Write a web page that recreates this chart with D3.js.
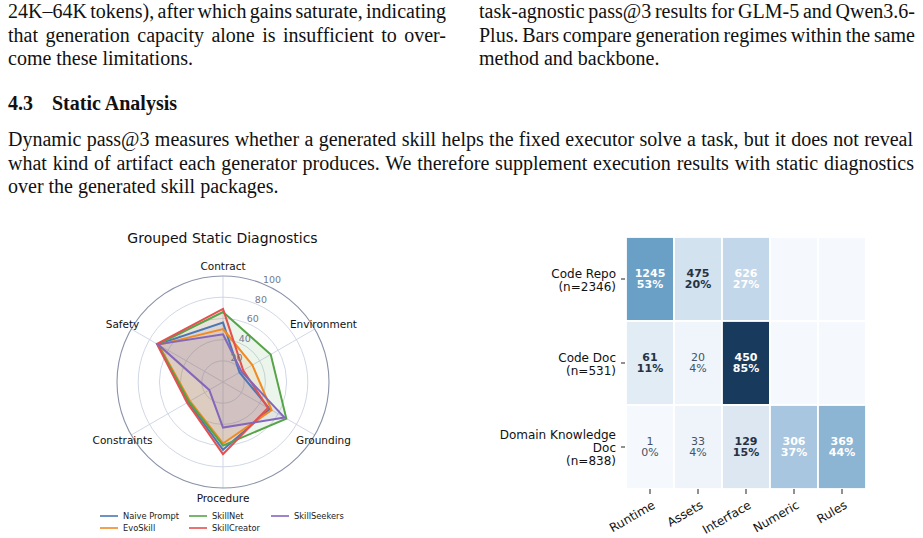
<!DOCTYPE html>
<html>
<head>
<meta charset="utf-8">
<script src="https://cdn.jsdelivr.net/npm/d3@7"></script>
<style>
  body { margin: 0; background: #fff; }
  svg { display: block; }
</style>
</head>
<body>
<div id="page"></div>
<script>
// ---- data ----
var radarAxes = ["Contract", "Environment", "Grounding", "Procedure", "Constraints", "Safety"];
var methods = ["Naive Prompt", "EvoSkill", "SkillNet", "SkillCreator", "SkillSeekers"];
var naivePrompt = [56, 18, 51, 64, 38, 71];
var evoSkill = [50, 32, 53, 58, 36, 70];
var skillNet = [66, 52, 69, 60, 37, 71];
var skillCreator = [69, 22, 49, 68, 39, 72];
var skillSeekers = [45, 20, 67, 43, 15, 71];
var radialTicks = [20, 40, 60, 80, 100];

var sourceLabels = [["Code Repo", "(n=2346)"], ["Code Doc", "(n=531)"], ["Domain Knowledge", "Doc", "(n=838)"]];
var artifactTypes = ["Runtime", "Assets", "Interface", "Numeric", "Rules"];
var codeRepoCounts = [1245, 475, 626, 0, 0];
var codeDocCounts = [61, 20, 450, 0, 0];
var domainDocCounts = [1, 33, 129, 306, 369];

var colors = ["#4a78b4", "#f28a22", "#55a447", "#e4504f", "#8467bb"];

var width = 923, height = 538;

var svg = d3.select("#page")
  .append("svg")
  .attr("width", width)
  .attr("height", height);

// ---- paper text ----
var serif = "'Liberation Serif', 'Times New Roman', serif";
var textLines = [
  { x: 8, w: 438, y: 18, t: "24K\u201364K tokens), after which gains saturate, indicating", j: true },
  { x: 8, w: 438, y: 42, t: "that generation capacity alone is insufficient to over-", j: true },
  { x: 8, w: 438, y: 65, t: "come these limitations.", j: false },
  { x: 479, w: 436, y: 18, t: "task-agnostic pass@3 results for GLM-5 and Qwen3.6-", j: true },
  { x: 479, w: 436, y: 42, t: "Plus. Bars compare generation regimes within the same", j: true },
  { x: 479, w: 436, y: 65, t: "method and backbone.", j: false },
  { x: 8, w: 905, y: 146, t: "Dynamic pass@3 measures whether a generated skill helps the fixed executor solve a task, but it does not reveal", j: true },
  { x: 8, w: 906, y: 170, t: "what kind of artifact each generator produces. We therefore supplement execution results with static diagnostics", j: true },
  { x: 8, w: 906, y: 193, t: "over the generated skill packages.", j: false }
];

textLines.forEach(function (d) {
  var t = svg.append("text")
    .attr("x", d.x)
    .attr("y", d.y)
    .style("font-family", serif)
    .style("font-size", "20px")
    .attr("fill", "#111")
    .text(d.t);
  if (d.j) {
    var natural = t.node().getComputedTextLength();
    var spaces = d.t.split(" ").length - 1;
    t.style("word-spacing", ((d.w - natural) / spaces) + "px");
  }
});

svg.append("text")
  .attr("x", 8).attr("y", 110)
  .style("font-family", serif)
  .style("font-size", "20px")
  .style("font-weight", "bold")
  .attr("fill", "#111")
  .text("4.3");
svg.append("text")
  .attr("x", 52).attr("y", 110)
  .style("font-family", serif)
  .style("font-size", "20px")
  .style("font-weight", "bold")
  .attr("fill", "#111")
  .text("Static Analysis");

// ---- radar chart ----
var sans = "'DejaVu Sans', sans-serif";
var cx = 223, cy = 382;
var r = d3.scaleLinear().domain([0, 100]).range([0, 106]);
var angle = d3.scaleLinear().domain([0, radarAxes.length]).range([0, 2 * Math.PI]);

var radar = svg.append("g").attr("transform", "translate(" + cx + "," + cy + ")");

radar.selectAll("circle.grid")
  .data(radialTicks.slice(0, -1))
  .enter()
  .append("circle")
  .attr("r", function (d) { return r(d); })
  .attr("fill", "none")
  .attr("stroke", "#cbd3e2")
  .attr("stroke-width", 0.9);

radar.selectAll("line.spoke")
  .data(radarAxes)
  .enter()
  .append("line")
  .attr("x1", 0).attr("y1", 0)
  .attr("x2", function (d, i) { return r(100) * Math.sin(angle(i)); })
  .attr("y2", function (d, i) { return -r(100) * Math.cos(angle(i)); })
  .attr("stroke", "#cbd3e2")
  .attr("stroke-width", 0.9);

radar.append("circle")
  .attr("r", r(100))
  .attr("fill", "none")
  .attr("stroke", "#8a93a9")
  .attr("stroke-width", 1.1);

var series = [naivePrompt, evoSkill, skillNet, skillCreator, skillSeekers];

var radarLine = d3.lineRadial()
  .angle(function (d, i) { return angle(i); })
  .radius(function (d) { return r(d); })
  .curve(d3.curveLinearClosed);

radar.selectAll("path.area")
  .data(series)
  .enter()
  .append("path")
  .attr("d", radarLine)
  .attr("fill", function (d, i) { return colors[i]; })
  .attr("fill-opacity", 0.11)
  .attr("stroke", "none");

radar.selectAll("path.outline")
  .data(series)
  .enter()
  .append("path")
  .attr("d", radarLine)
  .attr("fill", "none")
  .attr("stroke", function (d, i) { return colors[i]; })
  .attr("stroke-width", 2)
  .attr("stroke-linejoin", "miter");

// radial tick labels at 22.5 deg
var labAngle = 22.5 * Math.PI / 180;
radar.selectAll("text.rtick")
  .data(radialTicks)
  .enter()
  .append("text")
  .attr("x", function (d) { return (r(d) + 5) * Math.sin(labAngle) - 2.5; })
  .attr("y", function (d) { return -(r(d) + 5) * Math.cos(labAngle); })
  .attr("text-anchor", "start")
  .attr("dominant-baseline", "central")
  .style("font-family", sans)
  .style("font-size", "9.5px")
  .attr("fill", "#737a8a")
  .text(function (d) { return d; });

radar.selectAll("text.axis")
  .data(radarAxes)
  .enter()
  .append("text")
  .attr("x", function (d, i) { return 116 * Math.sin(angle(i)); })
  .attr("y", function (d, i) { return -116 * Math.cos(angle(i)); })
  .attr("text-anchor", "middle")
  .attr("dominant-baseline", "central")
  .style("font-family", sans)
  .style("font-size", "10.5px")
  .attr("fill", "#111")
  .text(function (d) { return d; });

svg.append("text")
  .attr("x", 222.5).attr("y", 238)
  .attr("text-anchor", "middle")
  .attr("dominant-baseline", "central")
  .style("font-family", sans)
  .style("font-size", "14px")
  .attr("fill", "#111")
  .text("Grouped Static Diagnostics");

// legend (3 columns, filled row by row)
var legendX = [100, 189, 271], legendY = [516, 528];
var legend = svg.selectAll("g.legend")
  .data(methods)
  .enter()
  .append("g")
  .attr("transform", function (d, i) {
    var col = [0, 0, 1, 1, 2][i], row = [0, 1, 0, 1, 0][i];
    return "translate(" + legendX[col] + "," + legendY[row] + ")";
  });
legend.append("line")
  .attr("x1", 0).attr("x2", 18)
  .attr("stroke", function (d, i) { return colors[i]; })
  .attr("stroke-width", 1.6);
legend.append("text")
  .attr("x", 23)
  .attr("dominant-baseline", "central")
  .style("font-family", sans)
  .style("font-size", "8.3px")
  .attr("fill", "#222")
  .text(function (d) { return d; });

// ---- heatmap ----
var counts = [codeRepoCounts, codeDocCounts, domainDocCounts];
var cells = [];
counts.forEach(function (row, ri) {
  var n = d3.sum(row);
  row.forEach(function (c, ci) {
    cells.push({ row: ri, col: artifactTypes[ci], count: c, pct: c / n * 100 });
  });
});

var hx = d3.scaleBand().domain(artifactTypes).range([626, 866]);
var hy = d3.scaleBand().domain(d3.range(sourceLabels.length)).range([237, 489]);
var heatColor = d3.scaleLinear()
  .domain([0, 20, 37, 53, 85])
  .range(["#f5f9fd", "#d4e2ef", "#a7c5df", "#6aa0c6", "#173a5c"])
  .clamp(true);

svg.selectAll("rect.cell")
  .data(cells)
  .enter()
  .append("rect")
  .attr("x", function (d) { return hx(d.col); })
  .attr("y", function (d) { return hy(d.row); })
  .attr("width", hx.bandwidth())
  .attr("height", hy.bandwidth())
  .attr("fill", function (d) { return heatColor(d.pct); })
  .attr("stroke", "#fff")
  .attr("stroke-width", 1.8);

var cellText = svg.selectAll("text.cell")
  .data(cells.filter(function (d) { return d.count > 0; }))
  .enter()
  .append("text")
  .attr("text-anchor", "middle")
  .style("font-family", sans)
  .style("font-size", "11px")
  .style("font-weight", function (d) { return Math.round(d.pct) >= 10 ? "bold" : "normal"; })
  .attr("fill", function (d) {
    var p = Math.round(d.pct);
    return p >= 25 ? "#fff" : (p >= 10 ? "#263242" : "#4a5262");
  });
cellText.append("tspan")
  .attr("x", function (d) { return hx(d.col) + hx.bandwidth() / 2; })
  .attr("y", function (d) { return hy(d.row) + hy.bandwidth() / 2 - 6; })
  .attr("dominant-baseline", "central")
  .text(function (d) { return d.count; });
cellText.append("tspan")
  .attr("x", function (d) { return hx(d.col) + hx.bandwidth() / 2; })
  .attr("y", function (d) { return hy(d.row) + hy.bandwidth() / 2 + 5.5; })
  .attr("dominant-baseline", "central")
  .text(function (d) { return Math.round(d.pct) + "%"; });

// y axis
var yAxis = svg.append("g");
sourceLabels.forEach(function (lines, i) {
  var yc = hy(i) + hy.bandwidth() / 2;
  yAxis.append("line")
    .attr("x1", 621).attr("x2", 625)
    .attr("y1", yc).attr("y2", yc)
    .attr("stroke", "#222").attr("stroke-width", 1);
  var lh = 13;
  lines.forEach(function (l, k) {
    yAxis.append("text")
      .attr("x", 616)
      .attr("y", yc + (k - (lines.length - 1) / 2) * lh + 1)
      .attr("text-anchor", "end")
      .attr("dominant-baseline", "central")
      .style("font-family", sans)
      .style("font-size", "12px")
      .attr("fill", "#111")
      .text(l);
  });
});

// x axis
var xAxis = svg.append("g");
artifactTypes.forEach(function (a) {
  var xc = hx(a) + hx.bandwidth() / 2;
  xAxis.append("line")
    .attr("x1", xc).attr("x2", xc)
    .attr("y1", 489).attr("y2", 494)
    .attr("stroke", "#222").attr("stroke-width", 1);
  xAxis.append("text")
    .attr("transform", "translate(" + (xc + 4) + ",504) rotate(-30)")
    .attr("text-anchor", "end")
    .attr("dominant-baseline", "central")
    .style("font-family", sans)
    .style("font-size", "12px")
    .attr("fill", "#111")
    .text(a);
});
</script>
</body>
</html>
